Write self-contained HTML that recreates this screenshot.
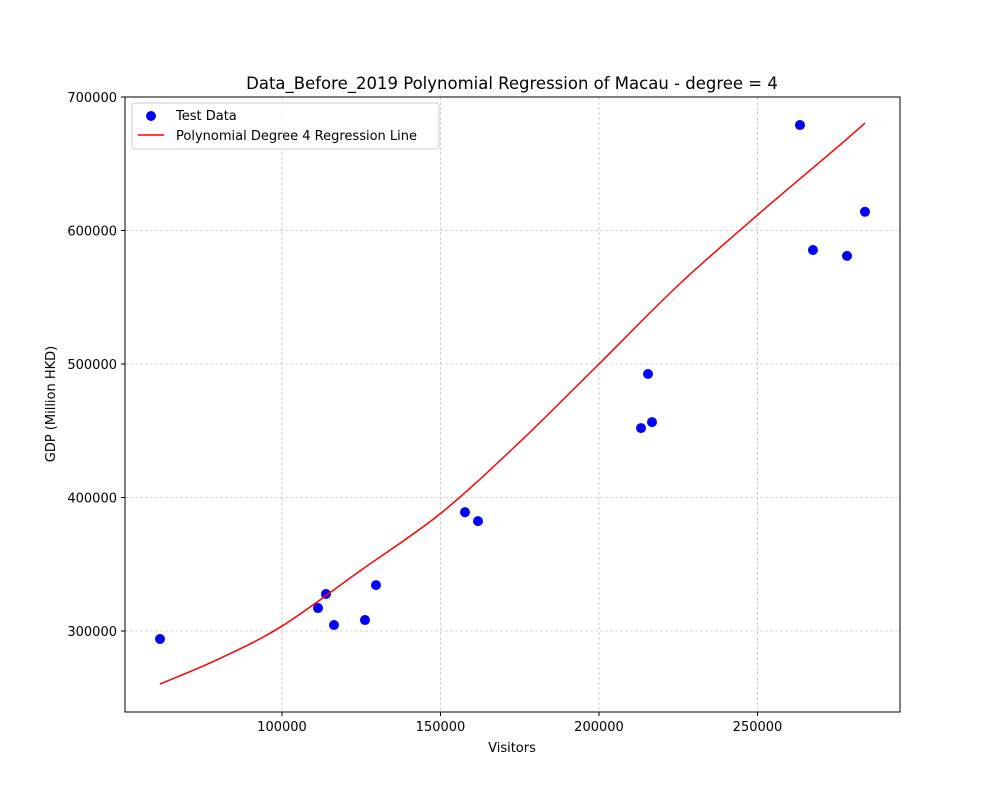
<!DOCTYPE html>
<html><head><meta charset="utf-8"><style>
body{margin:0;background:#fff;font-family:"Liberation Sans","DejaVu Sans",sans-serif;}
svg text{font-family:"DejaVu Sans","Liberation Sans",sans-serif;}
</style></head><body>
<svg id="chart" width="1000" height="800" viewBox="0 0 1000 800" xmlns="http://www.w3.org/2000/svg">
<rect width="1000" height="800" fill="#fff"/>
<g id="grid"></g>
<g id="marks"></g>
<rect x="125" y="97" width="775" height="615" fill="none" stroke="#000" stroke-width="1"/>
<g id="ticks"></g>
<text x="512" y="89" font-size="16.5" text-anchor="middle">Data_Before_2019 Polynomial Regression of Macau - degree = 4</text>
<text x="512" y="752" font-size="13" text-anchor="middle">Visitors</text>
<text transform="translate(55,404) rotate(-90)" font-size="13" text-anchor="middle">GDP (Million HKD)</text>
<g>
<rect x="132" y="103" width="307" height="46" rx="3" fill="#fff" fill-opacity="0.8" stroke="#ccc"/>
<circle cx="151" cy="116" r="5" fill="#0000ff"/>
<text x="176" y="120" font-size="13">Test Data</text>
<line x1="138" y1="135" x2="164" y2="135" stroke="#ff0000" stroke-width="1.5"/>
<text x="176" y="140" font-size="13">Polynomial Degree 4 Regression Line</text>
</g>
</svg>
<script>
const xTicks=[100000,150000,200000,250000];
const yTicks=[300000,400000,500000,600000,700000];
const testX=[61514,111360,113880,116400,126180,129650,157730,161830,213250,215460,216720,263400,267500,278240,283910];
const testY=[294000,317200,327700,304500,308200,334400,389000,382300,452000,492500,456500,679000,585400,581000,614000];
const curveX=[61514,80000,100000,125000,150000,175000,200000,225000,250000,275000,283910];
const curveY=[260300,279000,303700,345700,388000,441600,500000,559000,611600,662000,680500];
const X=v=>282+(v-100000)*158.5/50000;
const Y=v=>631-(v-300000)*133.5/100000;
const NS="http://www.w3.org/2000/svg";
const grid=document.getElementById('grid'),ticks=document.getElementById('ticks'),marks=document.getElementById('marks');
function mk(tag,attrs,parent){const e=document.createElementNS(NS,tag);for(const k in attrs)e.setAttribute(k,attrs[k]);parent.appendChild(e);return e;}
xTicks.forEach(v=>{const x=X(v);
 const g=mk('line',{x1:x,x2:x,y1:97,y2:712,stroke:'#b0b0b0','stroke-width':0.6,'stroke-dasharray':'3,2'},grid);
 
 
 const t=mk('line',{x1:x,x2:x,y1:712,y2:716,stroke:'#000'},ticks);
 
 
 const l=mk('text',{x:x,y:731,'font-size':13,'text-anchor':'middle'},ticks);l.textContent=v;
 
 
});
yTicks.forEach(v=>{const y=Y(v);
 const g=mk('line',{x1:125,x2:900,y1:y,y2:y,stroke:'#b0b0b0','stroke-width':0.6,'stroke-dasharray':'3,2'},grid);
 
 
 const t=mk('line',{x1:121,x2:125,y1:y,y2:y,stroke:'#000'},ticks);
 
 
 const l=mk('text',{x:117,y:y+5,'font-size':13,'text-anchor':'end'},ticks);l.textContent=v;
 
 
});
testX.forEach((v,i)=>{const c=mk('circle',{cx:X(v),cy:Y(testY[i]),r:5,fill:'#0000ff'},marks);
 
 
});
const P=curveX.map((v,i)=>[X(v),Y(curveY[i])]);
let d='M'+P[0][0]+','+P[0][1];
for(let i=0;i<P.length-1;i++){
 const p0=P[Math.max(i-1,0)],p1=P[i],p2=P[i+1],p3=P[Math.min(i+2,P.length-1)];
 const c1=[p1[0]+(p2[0]-p0[0])/6,p1[1]+(p2[1]-p0[1])/6];
 const c2=[p2[0]-(p3[0]-p1[0])/6,p2[1]-(p3[1]-p1[1])/6];
 d+=' C'+c1[0]+','+c1[1]+' '+c2[0]+','+c2[1]+' '+p2[0]+','+p2[1];
}
const pl=mk('path',{d:d,fill:'none',stroke:'#ff0000','stroke-width':1.5},marks);


</script>
</body></html>
